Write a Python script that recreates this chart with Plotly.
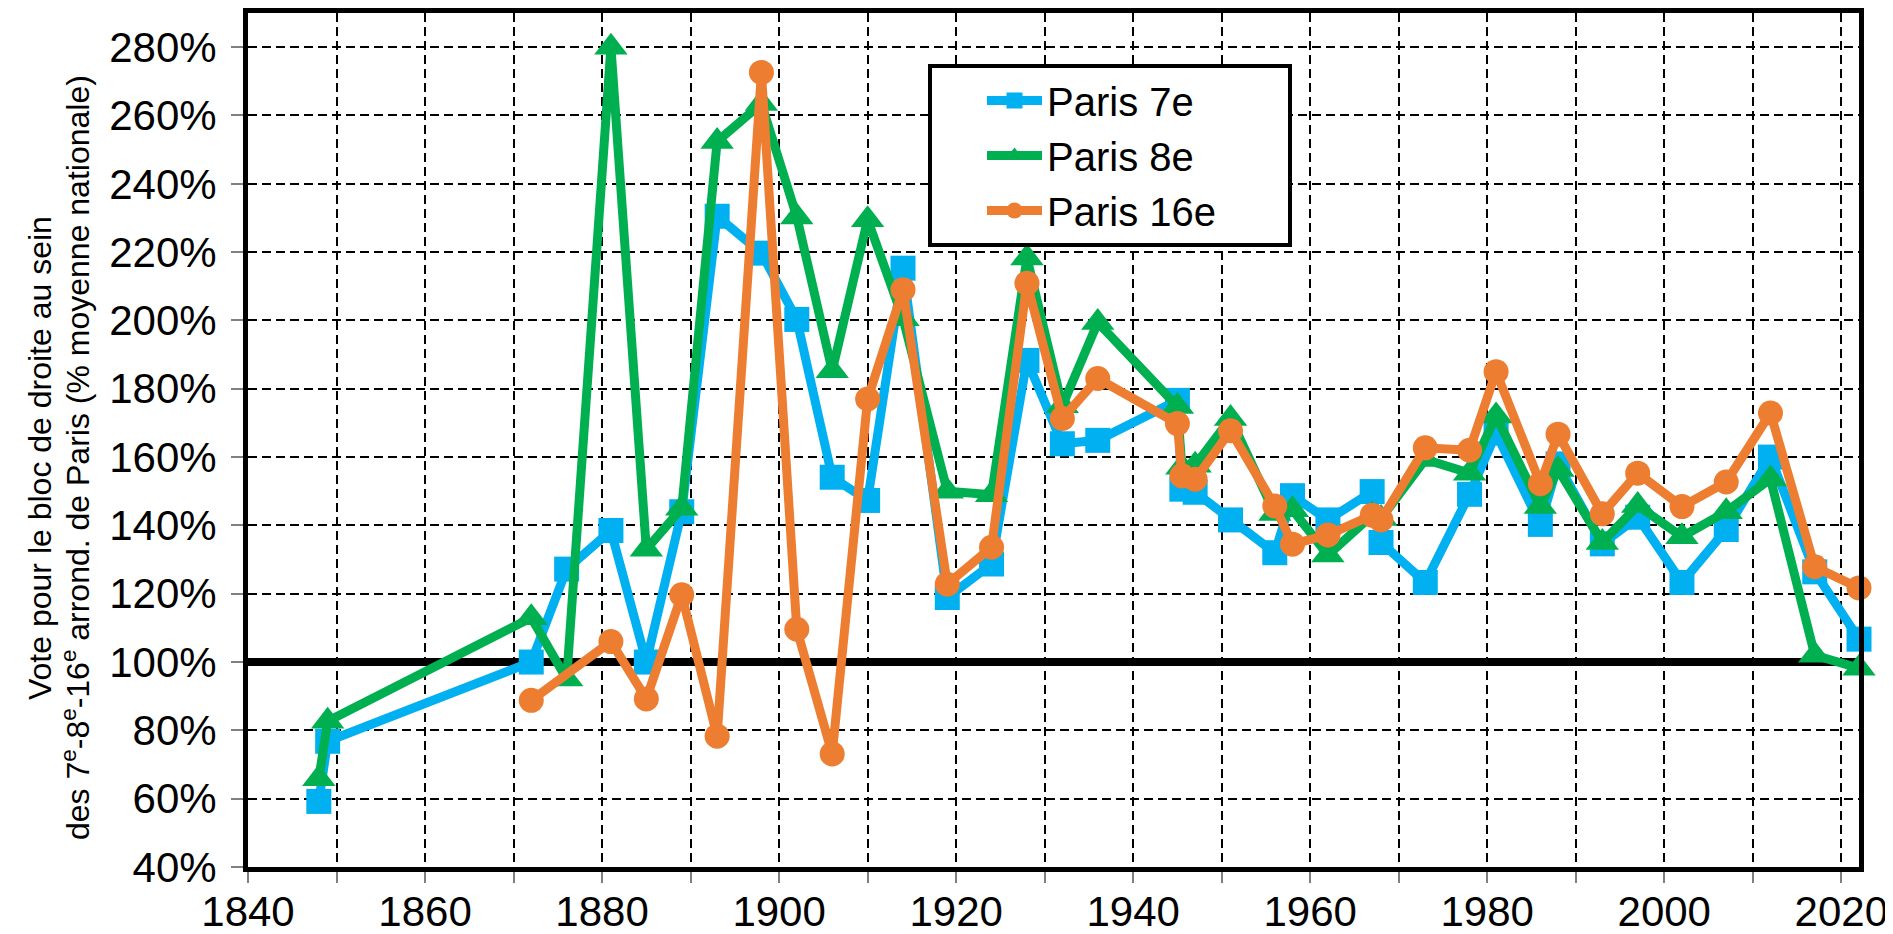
import plotly.graph_objects as go

# ---- data ----
years = [1848, 1849, 1872, 1876, 1881, 1885, 1889, 1893, 1898, 1902, 1906, 1910,
         1914, 1919, 1924, 1928, 1932, 1936, 1945, 1945.5, 1947, 1951, 1956, 1958,
         1962, 1967, 1968, 1973, 1978, 1981, 1986, 1988, 1993, 1997, 2002, 2007,
         2012, 2017, 2022]

paris_7e = [59.2, 76.8, 100, 127.2, 138.5, 100, 144, 230.5, 219.7, 200.3, 154.1, 147.3,
            215.3, 118.9, 128.7, 188.3, 163.9, 164.9, 176.6, 150.6, 149.7, 141.6, 132, 148.7,
            141.6, 149.9, 135, 123.3, 149.1, 167, 140.3, 158, 134.6, 142.4, 123.3, 138.8,
            160, 126.4, 106.7]

paris_8e = [65.8, 82.7, 113, 95, 280, 133, 145, 252.4, 263.5, 230.3, 185.3, 229.5,
            200.5, 150, 149, 218.3, 175, 199.4, 174.8, 157, 157.6, 171.3, 143.5, 144.6,
            131.3, 143, 142, 159.3, 155.3, 172, 145.5, 156.4, 135, 145.8, 136.7, 144,
            153.6, 102, 98.2]

paris_16e = [None, None, 88.8, None, 106, 89.2, 119.7, 78.3, 272.6, 109.6, 73.1, 177,
             209, 122.8, 133.6, 210.9, 171.3, 183, 169.8, 154.5, 153.5, 167.7, 145.7, 134.5,
             137.2, 143, 141.6, 162.7, 162, 185, 152.2, 166.7, 143.4, 155.3, 145.5, 152.7,
             172.9, 127.9, 121.7]

series_names = ["Paris 7e", "Paris 8e", "Paris 16e"]
series_colors = ["#00B0F0", "#00B050", "#ED7D31"]
series_symbols = ["square", "triangle-up", "circle"]
series_marker_sizes = [25, 29, 25]

x_range = [1840, 2022]
y_range = [40, 290]
y_ticks = list(range(40, 281, 20))
y_tick_labels = [f"{v}%" for v in y_ticks]
x_ticks = list(range(1840, 2021, 20))
x_tick_labels = [str(t) for t in x_ticks]
x_minor_ticks = list(range(1850, 2021, 20))
reference_level = 100

y_title_lines = ["Vote pour le bloc de droite au sein",
                 "des 7<sup>e</sup>-8<sup>e</sup>-16<sup>e</sup> arrond. de Paris (% moyenne nationale)"]

FONT = "Liberation Sans, Arial, sans-serif"
PAD = "\u00a0" * 6  # right padding inside the legend box

# plot area in page pixels (the page body adds an 8 px offset to the figure)
OFF = 8
PX_L, PX_R, PX_T, PX_B = 248, 1859, 13, 867
W, H = 1885, 926


def paper_x(px):
    return (px - PX_L) / (PX_R - PX_L)


def paper_y(py):
    return (PX_B - py) / (PX_B - PX_T)


fig = go.Figure()

# 100 % reference line (drawn under the series, above the grid)
fig.add_trace(go.Scatter(
    x=x_range, y=[reference_level, reference_level], mode="lines",
    line=dict(color="black", width=8), showlegend=False, hoverinfo="skip",
))

for name, vals, col, sym, msz in zip(series_names, [paris_7e, paris_8e, paris_16e],
                                     series_colors, series_symbols, series_marker_sizes):
    fig.add_trace(go.Scatter(
        x=years, y=vals, name=name + PAD, mode="lines+markers", connectgaps=True,
        line=dict(color=col, width=9),
        marker=dict(symbol=sym, size=msz, color=col, line=dict(width=0)),
        cliponaxis=False,
    ))

annotations = []
for line_text, px in zip(y_title_lines, [40, 76]):
    annotations.append(dict(
        text=line_text, textangle=-90, showarrow=False,
        xref="paper", yref="paper",
        x=paper_x(px), y=paper_y(458),
        xanchor="center", yanchor="middle",
        font=dict(family=FONT, size=32, color="black"),
    ))

fig.update_layout(
    width=W, height=H,
    margin=dict(l=PX_L - OFF, r=W + OFF - PX_R, t=PX_T - OFF, b=H + OFF - PX_B,
                autoexpand=False),
    paper_bgcolor="white", plot_bgcolor="white",
    font=dict(family=FONT, size=40, color="black"),
    showlegend=True,
    legend=dict(
        x=paper_x(928), y=paper_y(155.5),
        xanchor="left", yanchor="middle",
        bordercolor="black", borderwidth=4, bgcolor="white",
        font=dict(family=FONT, size=40, color="black"),
        indentation=50, itemwidth=55, tracegroupgap=0,
    ),
    annotations=annotations,
)

fig.update_xaxes(
    range=x_range, tickmode="array", tickvals=x_ticks, ticktext=x_tick_labels,
    showgrid=True, gridcolor="black", gridwidth=2, griddash="9px,5px",
    showline=True, linecolor="black", linewidth=5, mirror=True,
    ticks="outside", ticklen=11, tickwidth=2, tickcolor="#808080",
    tickfont=dict(family=FONT, size=42, color="black"),
    ticklabelstandoff=-7, ticklabeloverflow="allow",
    minor=dict(tickmode="array", tickvals=x_minor_ticks, ticks="outside", ticklen=11,
               tickwidth=2, tickcolor="#808080", showgrid=True, gridcolor="black",
               gridwidth=2, griddash="9px,5px"),
    zeroline=False,
)
fig.update_yaxes(
    range=y_range, tickmode="array", tickvals=y_ticks, ticktext=y_tick_labels,
    showgrid=True, gridcolor="black", gridwidth=2, griddash="9px,5px",
    showline=True, linecolor="black", linewidth=5, mirror=True,
    ticks="outside", ticklen=12, tickwidth=2, tickcolor="#808080",
    tickfont=dict(family=FONT, size=42, color="black"),
    ticklabelstandoff=6,
    zeroline=False,
)

fig.write_html("out.html")
